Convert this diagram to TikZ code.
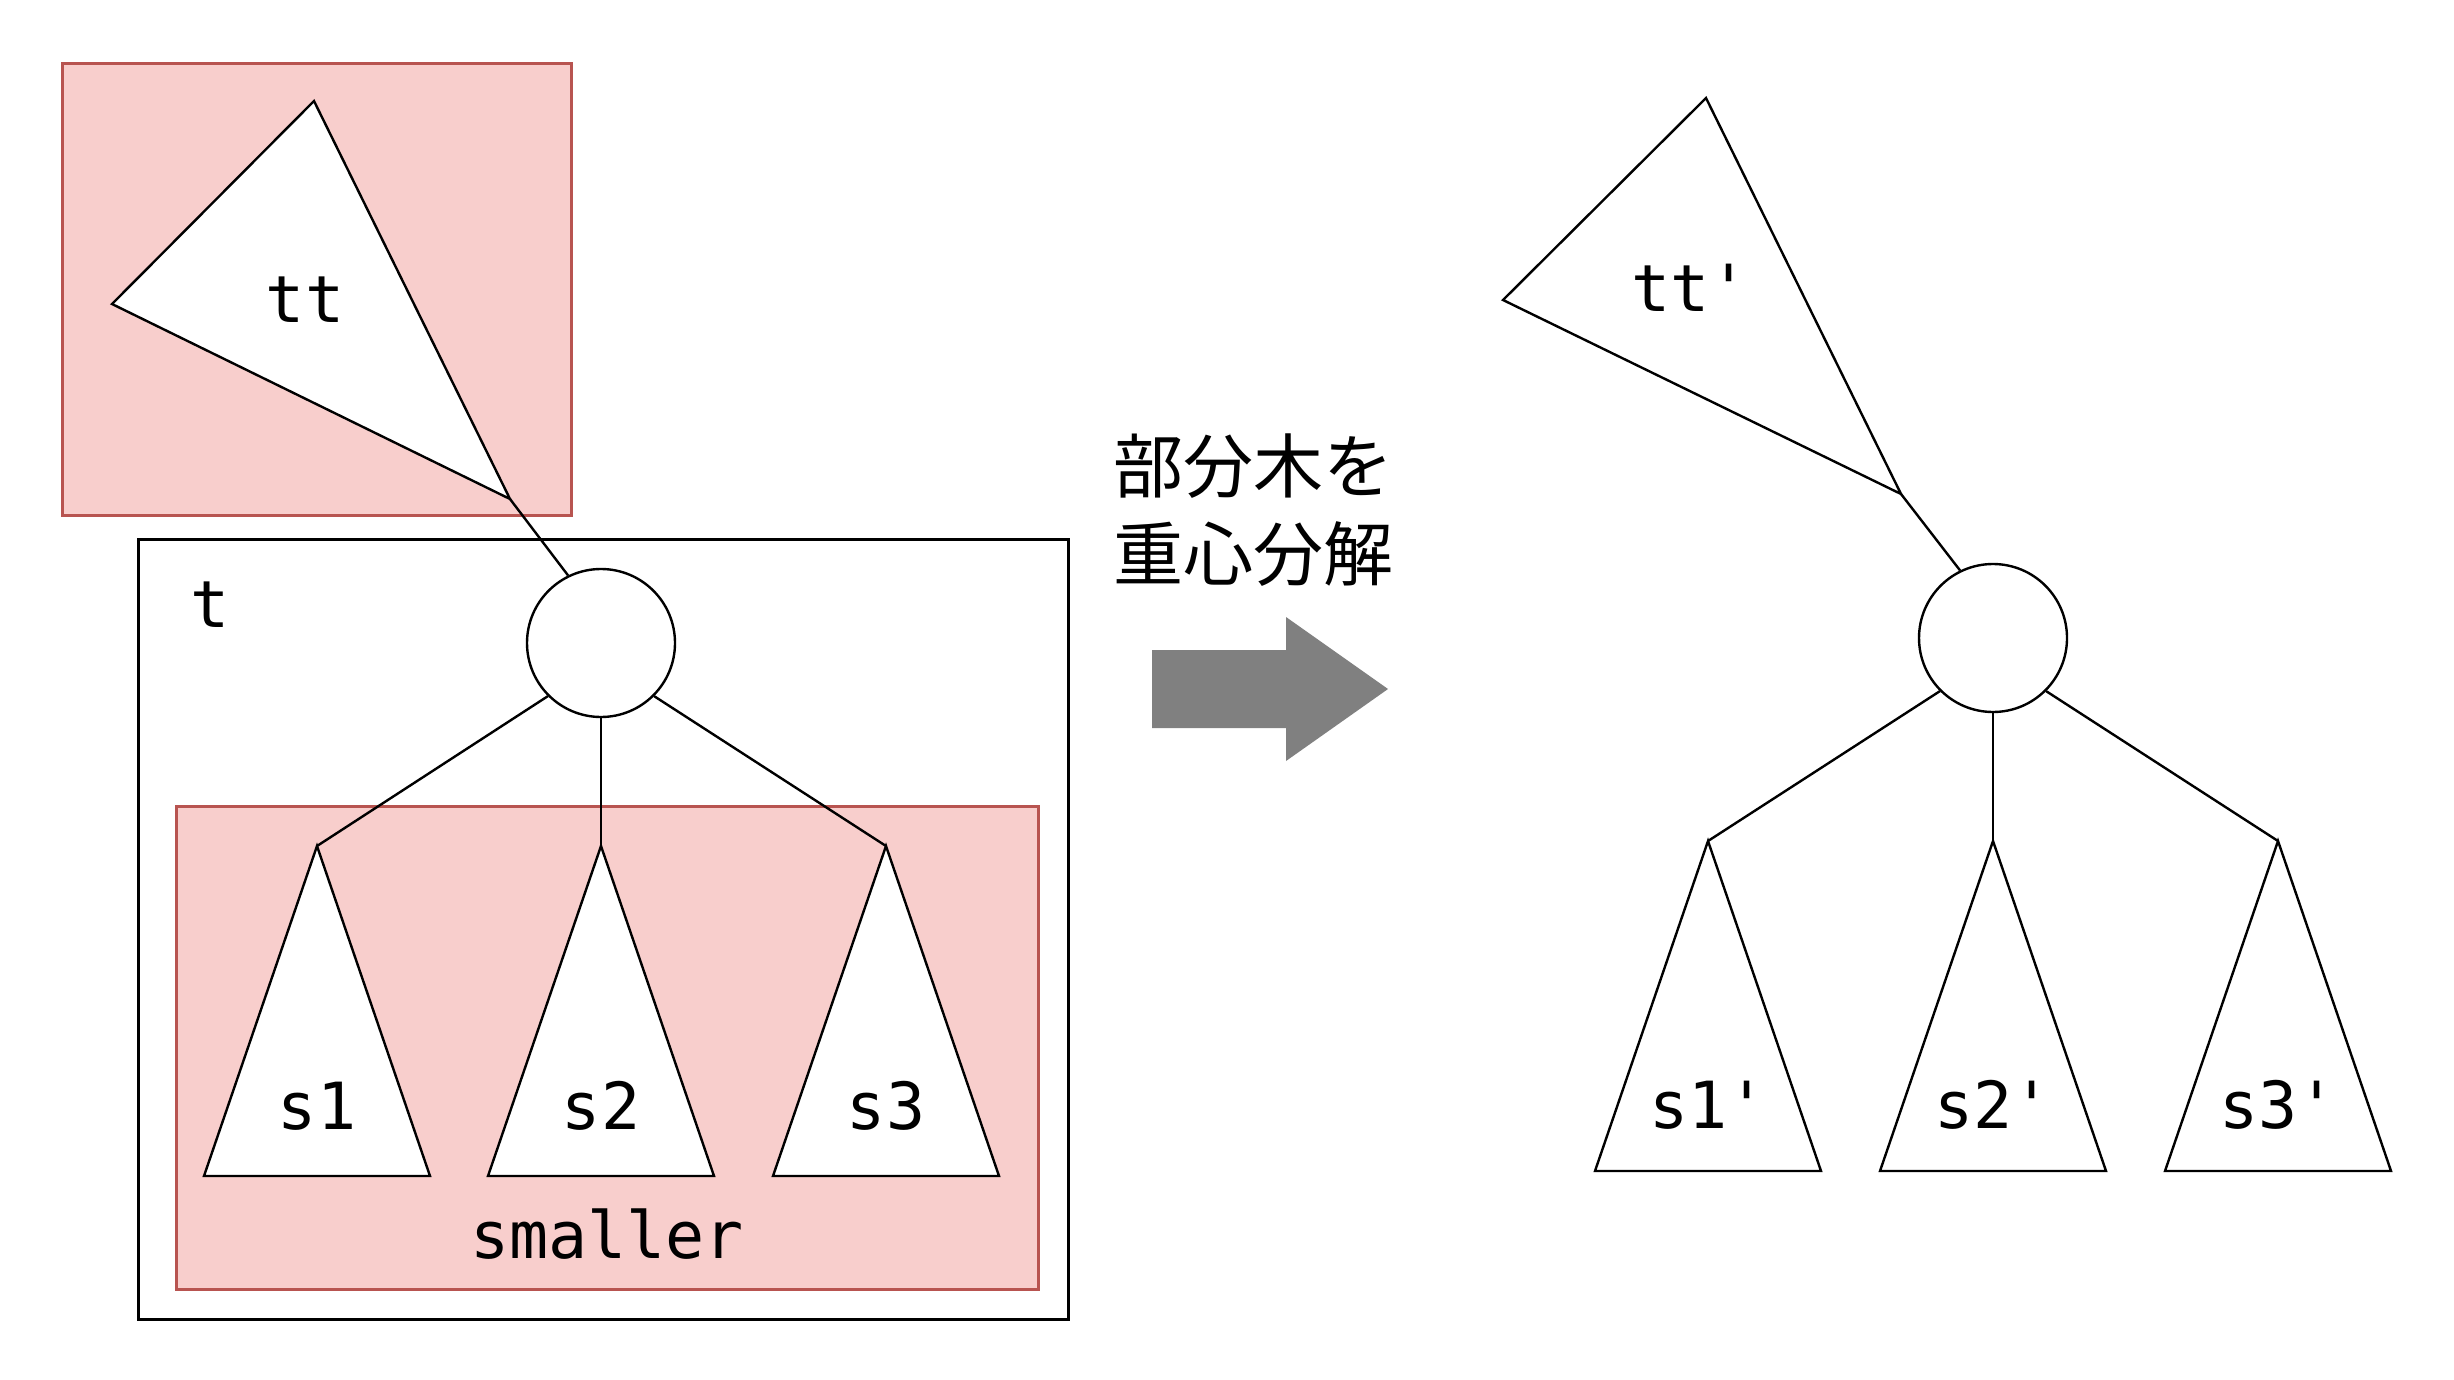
\documentclass[tikz,border=0pt]{standalone}
\usepackage{fontspec}
\setmonofont{DejaVu Sans Mono}
\newfontfamily\jpfont{Noto Sans CJK JP}
\definecolor{pinkfill}{HTML}{F8CECC}
\definecolor{pinkline}{HTML}{B85450}
\definecolor{arrowgray}{HTML}{808080}
\begin{document}
\begin{tikzpicture}[x=1pt,y=-1pt,
  edge/.style={draw=black,line width=2.4pt},
  tri/.style={draw=black,fill=white,line width=2.4pt},
  pinkbox/.style={rectangle,draw=pinkline,fill=pinkfill,line width=2.6pt,anchor=north west,inner sep=0pt},
  outerbox/.style={rectangle,draw=black,fill=white,line width=2.8pt,anchor=north west,inner sep=0pt},
  vert/.style={circle,draw=black,fill=white,line width=2.4pt,minimum size=148pt,inner sep=0pt},
  lab/.style={font=\ttfamily\fontsize{65}{78}\selectfont,anchor=base,inner sep=0pt},
  jp/.style={font=\jpfont\fontsize{70}{88}\selectfont,align=center,inner sep=0pt}]
\useasboundingbox (0,0) rectangle (2454,1380);
\fill[white] (0,0) rectangle (2454,1380);

% ---------- left: before ----------
\node[pinkbox,minimum width=509pt,minimum height=452pt] (ttbox) at (61,62) {};
\node[outerbox,minimum width=930pt,minimum height=780pt] (tbox) at (137,538) {};
\node[pinkbox,minimum width=862pt,minimum height=483pt] (smallbox) at (175,805) {};

\coordinate (ttA) at (510,499);
\draw[tri] (314,101) -- (112,304) -- (ttA) -- cycle;

\coordinate (s1A) at (317,846);
\coordinate (s2A) at (601,846);
\coordinate (s3A) at (886,846);
\draw[tri] (s1A) -- (204,1176) -- (430,1176) -- cycle;
\draw[tri] (s2A) -- (488,1176) -- (714,1176) -- cycle;
\draw[tri] (s3A) -- (773,1176) -- (999,1176) -- cycle;

\node[vert] (cL) at (601,643) {};
\draw[edge] (ttA) -- (cL.116);
\draw[edge] (cL.south west) -- (s1A);
\draw[edge] (cL.south) -- (s2A);
\draw[edge] (cL.south east) -- (s3A);

\node[lab] (ttl) at (305,322) {tt};
\node[lab] (tl) at (210,627) {t};
\node[lab] (s1l) at (317,1129) {s1};
\node[lab] (s2l) at (601,1129) {s2};
\node[lab] (s3l) at (886,1129) {s3};
\node[lab] (sml) at (607,1258) {smaller};

% ---------- middle: arrow + caption ----------
\node[jp] (cap) at (1253,510) {部分木を\\重心分解};
\fill[arrowgray] (1152,650) -- (1286,650) -- (1286,617) -- (1388,689)
  -- (1286,761) -- (1286,728) -- (1152,728) -- cycle;

% ---------- right: after ----------
\coordinate (ttpA) at (1901,494);
\draw[tri] (1706,98) -- (1503,300) -- (ttpA) -- cycle;

\coordinate (r1A) at (1708,841);
\coordinate (r2A) at (1993,841);
\coordinate (r3A) at (2278,841);
\draw[tri] (r1A) -- (1595,1171) -- (1821,1171) -- cycle;
\draw[tri] (r2A) -- (1880,1171) -- (2106,1171) -- cycle;
\draw[tri] (r3A) -- (2165,1171) -- (2391,1171) -- cycle;

\node[vert] (cR) at (1993,638) {};
\draw[edge] (ttpA) -- (cR.116);
\draw[edge] (cR.south west) -- (r1A);
\draw[edge] (cR.south) -- (r2A);
\draw[edge] (cR.south east) -- (r3A);

\node[lab] (ttpl) at (1690,312) {tt{\char39}};
\node[lab] (r1l) at (1708,1128) {s1{\char39}};
\node[lab] (r2l) at (1993,1128) {s2{\char39}};
\node[lab] (r3l) at (2278,1128) {s3{\char39}};
\end{tikzpicture}
\end{document}
